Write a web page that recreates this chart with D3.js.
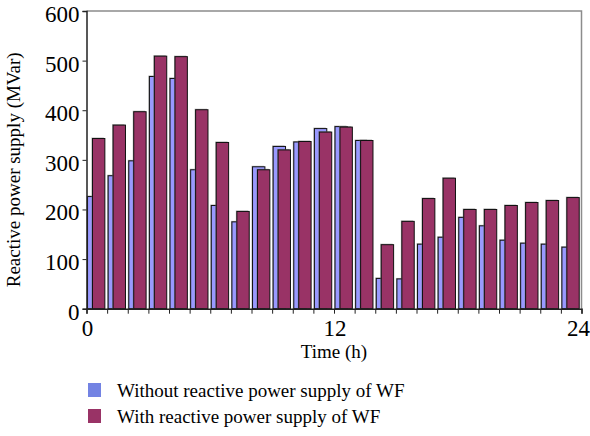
<!DOCTYPE html>
<html>
<head>
<meta charset="utf-8">
<script src="https://cdn.jsdelivr.net/npm/d3@7"></script>
<style>
  body { margin: 0; background: #fff; }
  .chart { width: 590px; height: 436px; }
  svg text { font-family: "Liberation Serif", "Times New Roman", serif; fill: #000; }
</style>
</head>
<body>
<div class="chart"></div>
<script>
// hours 0..23, one group of bars per hour
let hours = d3.range(24);

// Q without WF reactive support (MVar)
let withoutWF = [226, 268, 298, 468, 464, 280, 208, 175, 286, 327, 336, 363,
                 367, 339, 61, 60, 130, 144, 184, 167, 138, 132, 130, 124];

// Q with WF reactive support (MVar)
let withWF = [343, 370, 397, 509, 508, 401, 335, 196, 280, 320, 337, 356,
              366, 339, 129, 176, 222, 263, 200, 200, 208, 214, 218, 224];

let yTicks = [0, 100, 200, 300, 400, 500, 600];
let xTickLabels = [0, 12, 24];

let seriesNames = ["Without reactive power supply of WF", "With reactive power supply of WF"];

let chart = {};

chart.colors = {
    without: "#9999ff",
    with: "#993366",
    legendWithout: "#7383e3",
    legendWith: "#993366"
};

chart.margin = { top: 11, right: 8.5, bottom: 127.3, left: 86.5 };
chart.width = 590 - chart.margin.left - chart.margin.right;
chart.height = 436 - chart.margin.top - chart.margin.bottom;

chart.svg = d3.select(".chart").append("svg")
    .attr("width", 590)
    .attr("height", 436);

chart.plot = chart.svg.append("g")
    .attr("transform", `translate(${chart.margin.left},${chart.margin.top})`);

chart.xScale = d3.scaleBand()
    .domain(hours)
    .range([0, chart.width])
    .padding(0);

// numeric scale for hour ticks on the boundaries
chart.tScale = d3.scaleLinear()
    .domain([0, 24])
    .range([0, chart.width]);

chart.yScale = d3.scaleLinear()
    .domain([0, 600])
    .range([chart.height, 0]);

let bw = chart.xScale.bandwidth();

// grey frame on top and right
chart.plot.append("path")
    .attr("d", `M0,0H${chart.width}V${chart.height}`)
    .attr("fill", "none")
    .attr("stroke", "#8c8c8c")
    .attr("stroke-width", 1.5);

// bars: blue behind, plum in front
let barSets = [
    { key: "without", values: withoutWF, offset: 0.05 },
    { key: "with", values: withWF, offset: 0.29 }
];

barSets.forEach(s => {
    let g = chart.plot.append("g").attr("class", "bars " + s.key);

    g.selectAll(".shadow")
        .data(s.values)
        .enter()
        .append("rect")
        .attr("class", "shadow")
        .attr("x", (d, i) => chart.xScale(i) + bw * s.offset - 1)
        .attr("y", d => chart.yScale(d) - 1)
        .attr("width", bw * 0.6)
        .attr("height", d => chart.height - chart.yScale(d) + 1)
        .attr("fill", "#7a7a7a")
        .attr("opacity", 0.6);

    g.selectAll(".bar")
        .data(s.values)
        .enter()
        .append("rect")
        .attr("class", "bar")
        .attr("x", (d, i) => chart.xScale(i) + bw * s.offset)
        .attr("y", d => chart.yScale(d))
        .attr("width", bw * 0.6)
        .attr("height", d => chart.height - chart.yScale(d))
        .attr("fill", chart.colors[s.key])
        .attr("stroke", "#111")
        .attr("stroke-width", 1);
});

// y axis (tick marks only, labels drawn below in serif)
chart.yAxis = chart.plot.append("g")
    .call(d3.axisLeft(chart.yScale)
        .tickValues(yTicks)
        .tickSize(4)
        .tickFormat(""));

chart.yAxis.select(".domain").attr("stroke", "#222").attr("stroke-width", 1.5);
chart.yAxis.selectAll(".tick line").attr("stroke", "#222");

chart.plot.selectAll(".y-label")
    .data(yTicks)
    .enter()
    .append("text")
    .attr("class", "y-label")
    .attr("x", -7)
    .attr("y", d => chart.yScale(d) + 11)
    .attr("text-anchor", "end")
    .style("font-size", "23px")
    .text(d => d);

// x axis: ticks on each hour boundary, labels at 0, 12, 24
chart.xAxis = chart.plot.append("g")
    .attr("transform", `translate(0,${chart.height})`)
    .call(d3.axisBottom(chart.tScale)
        .tickValues(d3.range(25))
        .tickSize(5)
        .tickFormat(""));

chart.xAxis.select(".domain").attr("stroke", "#222").attr("stroke-width", 1.5);
chart.xAxis.selectAll(".tick line").attr("stroke", "#222");

chart.plot.selectAll(".x-label")
    .data(xTickLabels)
    .enter()
    .append("text")
    .attr("class", "x-label")
    .attr("x", d => chart.tScale(d) + (d === 24 ? -3 : 1))
    .attr("y", chart.height + 27)
    .attr("text-anchor", "middle")
    .style("font-size", "23px")
    .text(d => d);

// axis titles
chart.svg.append("text")
    .attr("x", chart.margin.left + chart.width / 2)
    .attr("y", 358)
    .attr("text-anchor", "middle")
    .style("font-size", "19px")
    .text("Time (h)");

chart.svg.append("text")
    .attr("transform", `translate(20,${chart.margin.top + chart.height / 2 + 10}) rotate(-90)`)
    .attr("text-anchor", "middle")
    .style("font-size", "19px")
    .text("Reactive power supply (MVar)");

// legend
let legend = chart.svg.append("g")
    .attr("transform", "translate(88,383)");

let legendItems = legend.selectAll(".item")
    .data(seriesNames)
    .enter()
    .append("g")
    .attr("class", "item")
    .attr("transform", (d, i) => `translate(0,${i * 26})`);

legendItems.append("rect")
    .attr("width", 13)
    .attr("height", 14)
    .attr("fill", (d, i) => i === 0 ? chart.colors.legendWithout : chart.colors.legendWith);

legendItems.append("text")
    .attr("x", 29)
    .attr("y", 14)
    .style("font-size", "19px")
    .text(d => d);
</script>
</body>
</html>
